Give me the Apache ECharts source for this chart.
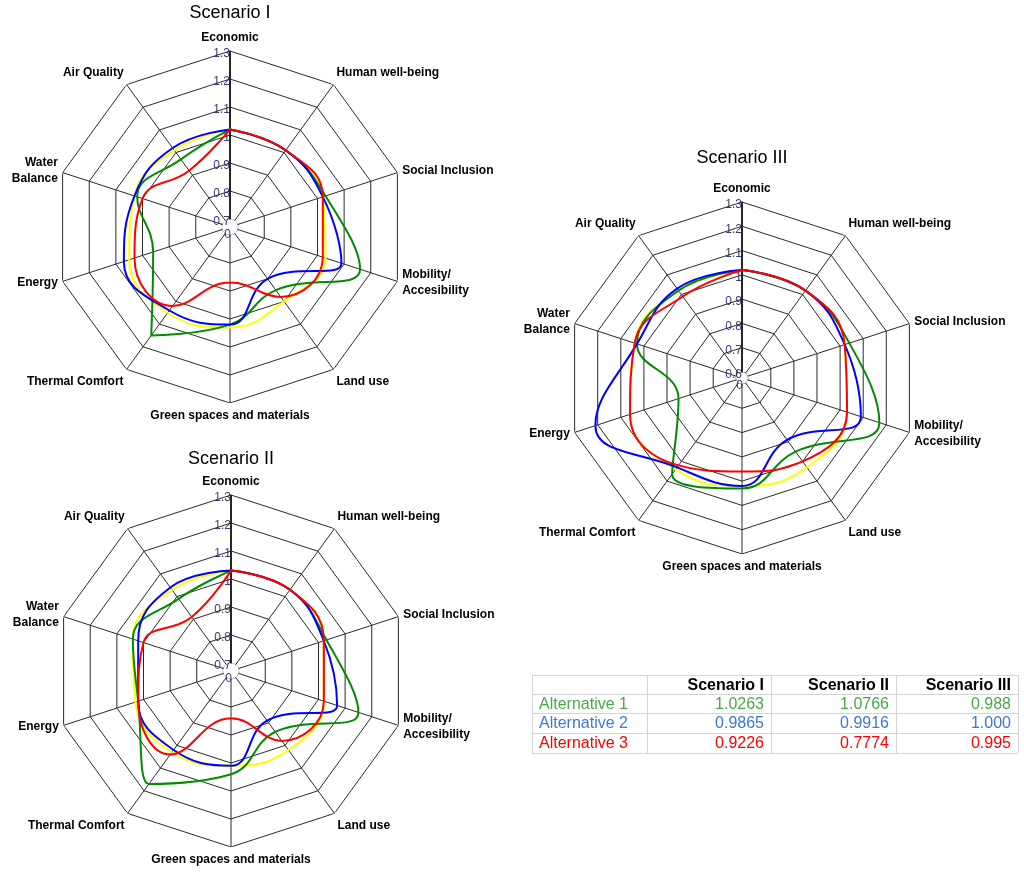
<!DOCTYPE html>
<html><head><meta charset="utf-8">
<script src="https://cdn.jsdelivr.net/npm/echarts@6/dist/echarts.min.js"></script>
<style>html,body{margin:0;padding:0;background:#fff}#c{width:1024px;height:872px}</style>
</head><body><div id="c"></div>
<script>
// ---------- data ----------
const axisNames = ['Economic','Human well-being','Social Inclusion','Mobility/\nAccesibility','Land use',
  'Green spaces and materials','Thermal Comfort','Energy','Water\nBalance','Air Quality'];
const scenarioNames = ['Scenario I','Scenario II','Scenario III'];
const ticksI   = [0.7,0.8,0.9,1.0,1.1,1.2,1.3];
const ticksII  = [0.7,0.8,0.9,1.0,1.1,1.2,1.3];
const ticksIII = [0.6,0.7,0.8,0.9,1.0,1.1,1.2,1.3];
const centerLabel = '0';

// Scenario I
const s1Green  = [1.02,1.01,1.03,1.16,0.95,1.02,1.15,0.96,1.02,0.97];
const s1Blue   = [1.02,1.01,1.02,1.09,0.90,1.02,1.04,1.07,1.03,1.02];
const s1Yellow = [1.02,1.01,1.02,1.03,1.00,1.03,1.05,1.05,1.03,1.01];
const s1Red    = [1.02,1.01,1.02,1.02,0.98,0.87,1.02,1.03,1.00,0.92];
// Scenario II
const s2Green  = [1.03,1.03,1.03,1.15,0.94,1.04,1.17,1.02,1.04,0.99];
const s2Blue   = [1.03,1.03,1.02,1.07,0.89,1.01,1.02,1.02,1.02,1.04];
const s2Yellow = [1.03,1.03,1.02,1.02,1.02,1.01,1.03,1.03,1.04,1.03];
const s2Red    = [1.03,1.03,1.02,1.02,0.98,0.84,1.04,1.02,1.00,0.91];
// Scenario III
const s3Green  = [1.02,1.02,1.04,1.17,0.95,1.03,1.065,0.85,1.03,1.02];
const s3Blue   = [1.02,1.02,1.02,1.09,0.89,1.02,1.03,1.21,1.03,1.03];
const s3Yellow = [1.02,1.02,1.02,1.03,1.03,1.02,1.04,1.06,1.04,1.02];
const s3Red    = [1.02,1.02,1.02,1.03,1.00,0.96,1.02,1.06,1.04,0.99];

// table
const tableCols = ['Scenario I','Scenario II','Scenario III'];
const tableRows = ['Alternative 1','Alternative 2','Alternative 3'];
const alt1Vals = ['1.0263','1.0766','0.988'];
const alt2Vals = ['0.9865','0.9916','1.000'];
const alt3Vals = ['0.9226','0.7774','0.995'];

// ---------- layout / style ----------
const FONT = '"Liberation Sans", Arial, sans-serif';
const N = axisNames.length;
const STEP = 360 / N;                       // angular position of each category on the value angle axis
const catAngle = k => k * STEP;
const panels = [
  {title: scenarioNames[0], titleY: 13, c:[230,227], r:[8,176], ticks: ticksI,
   series: [[s1Yellow,'#ffff00'],[s1Green,'#008c00'],[s1Blue,'#0000ff'],[s1Red,'#ff0000']]},
  {title: scenarioNames[1], titleY: 459, c:[231,671], r:[8,176], ticks: ticksII,
   series: [[s2Yellow,'#ffff00'],[s2Green,'#008c00'],[s2Blue,'#0000ff'],[s2Red,'#ff0000']]},
  {title: scenarioNames[2], titleY: 158, c:[742,378], r:[6,176], ticks: ticksIII,
   series: [[s3Yellow,'#ffff00'],[s3Green,'#008c00'],[s3Blue,'#0000ff'],[s3Red,'#ff0000']]}
];
const tableRowColors = ['#4aa84a','#3c78d8','#ff0000'];
const closedLoop = vals => vals.map((v, k) => [v, catAngle(k)]).concat([[vals[0], catAngle(N)]]);

const polar = [], angleAxis = [], radiusAxis = [], series = [], graphic = [];
panels.forEach((p, i) => {
  polar.push({center: p.c, radius: p.r});
  angleAxis.push({
    polarIndex: i, type: 'value', min: 0, max: 360, interval: STEP,
    startAngle: 90, clockwise: true,
    axisLine: {show: false}, axisTick: {show: false}, axisLabel: {show: false},
    splitLine: {show: true, lineStyle: {color: '#2a2a2a', width: 1}}
  });
  radiusAxis.push({
    polarIndex: i, type: 'value', min: p.ticks[0], max: p.ticks[p.ticks.length-1], interval: 0.1,
    axisLine: {show: true, lineStyle: {color: '#000', width: 1.5}},
    axisTick: {show: false}, splitLine: {show: false},
    axisLabel: {show: true, color: '#3a3a78', fontSize: 12, fontFamily: FONT, margin: 0,
      formatter: '{a|{value}}', rich: {a: {padding: [6, 0, 0, 0], color: '#3a3a78', fontSize: 12, fontFamily: FONT}}}
  });
  // decagon rings at tick values
  p.ticks.forEach(v => {
    series.push({
      type: 'line', coordinateSystem: 'polar', polarIndex: i, silent: true, clip: false,
      symbol: 'none', z: 1, animation: false,
      lineStyle: {color: '#2a2a2a', width: 1},
      data: closedLoop(axisNames.map(() => v))
    });
  });
  // alternatives
  p.series.forEach(([vals, col]) => {
    series.push({
      type: 'line', coordinateSystem: 'polar', polarIndex: i, clip: false,
      symbol: 'none', smooth: 0.45, z: 3, animation: false,
      lineStyle: {color: col, width: 2},
      data: closedLoop(vals)
    });
  });
  // title
  graphic.push({type: 'text', x: p.c[0], y: p.titleY, silent: true,
    style: {text: p.title, font: '18px ' + FONT, fill: '#000', align: 'center', verticalAlign: 'middle'}});
  // centre label
  graphic.push({type: 'text', x: p.c[0] + 1, y: p.c[1] + 8, silent: true,
    style: {text: centerLabel, font: '12px ' + FONT, fill: '#3a3a78', align: 'right', verticalAlign: 'middle'}});
  // axis names around the decagon
  const R = p.r[1] + 5;
  axisNames.forEach((name, k) => {
    const a = (90 - catAngle(k)) * Math.PI / 180;
    const cs = Math.cos(a), sn = Math.sin(a);
    const align = Math.abs(cs) < 0.2 ? 'center' : (cs > 0 ? 'left' : 'right');
    const vAlign = Math.abs(sn) < 0.5 ? 'middle' : (sn > 0 ? 'bottom' : 'top');
    graphic.push({type: 'text', x: p.c[0] + R * cs, y: p.c[1] - R * sn, silent: true,
      style: {text: name, font: 'bold 12px ' + FONT, fill: '#000', align: align,
        verticalAlign: vAlign, lineHeight: 16}});
  });
});

// table
const colEdges = [532, 647, 771, 896, 1018];
const rowEdges = [675, 694, 713, 733, 753];
rowEdges.forEach(y => graphic.push({type: 'line', silent: true,
  shape: {x1: colEdges[0], y1: y + 0.5, x2: colEdges[colEdges.length-1], y2: y + 0.5},
  style: {stroke: '#d4d4d4', lineWidth: 1}}));
colEdges.forEach(x => graphic.push({type: 'line', silent: true,
  shape: {x1: x + 0.5, y1: rowEdges[0], x2: x + 0.5, y2: rowEdges[rowEdges.length-1]},
  style: {stroke: '#d4d4d4', lineWidth: 1}}));
const cellRight = k => colEdges[k + 2] - 7;
const rowMid = r => (rowEdges[r] + rowEdges[r + 1]) / 2 + 1;
tableCols.forEach((h, k) => graphic.push({type: 'text', silent: true, x: cellRight(k), y: rowMid(0),
  style: {text: h, font: 'bold 16px ' + FONT, fill: '#000', align: 'right', verticalAlign: 'middle'}}));
[alt1Vals, alt2Vals, alt3Vals].forEach((vals, r) => {
  graphic.push({type: 'text', silent: true, x: colEdges[0] + 7, y: rowMid(r + 1),
    style: {text: tableRows[r], font: '16px ' + FONT, fill: tableRowColors[r], align: 'left', verticalAlign: 'middle'}});
  vals.forEach((v, k) => graphic.push({type: 'text', silent: true, x: cellRight(k), y: rowMid(r + 1),
    style: {text: v, font: '16px ' + FONT, fill: tableRowColors[r], align: 'right', verticalAlign: 'middle'}}));
});

const chart = echarts.init(document.getElementById('c'), null, {renderer: 'canvas'});
chart.setOption({
  backgroundColor: '#fff', animation: false,
  polar, angleAxis, radiusAxis, series, graphic
});
</script></body></html>
